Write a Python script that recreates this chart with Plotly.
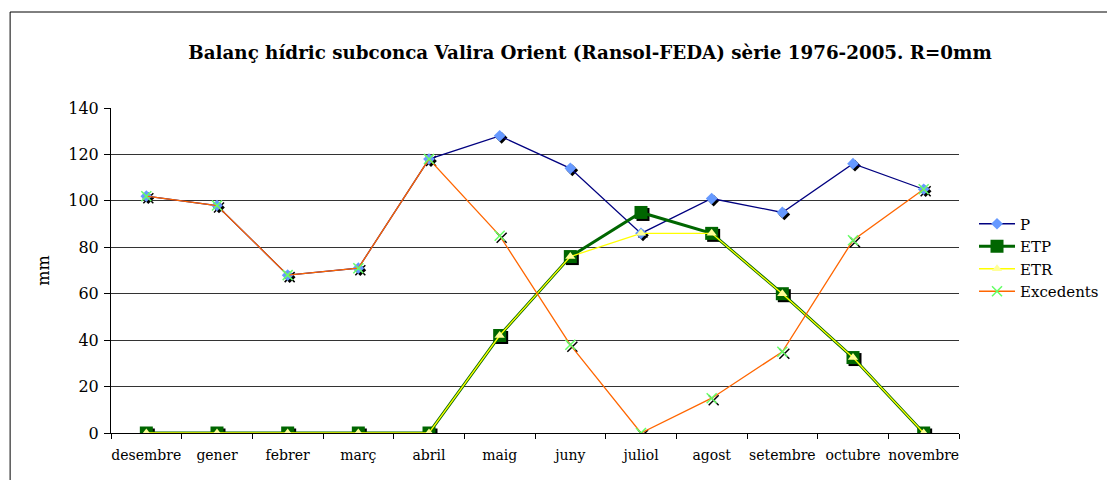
import plotly.graph_objects as go

months = ["desembre", "gener", "febrer", "març", "abril", "maig", "juny",
          "juliol", "agost", "setembre", "octubre", "novembre"]
P = [102, 98, 68, 71, 118, 128, 114, 86, 101, 95, 116, 105]
ETP = [0, 0, 0, 0, 0, 42, 76, 95, 86, 60, 32.5, 0]
ETR = [0, 0, 0, 0, 0, 42, 76, 86, 86, 60, 32.5, 0]
Excedents = [102, 98, 68, 71, 118, 85, 38, 0, 15, 35, 83, 105]
yticks = [0, 20, 40, 60, 80, 100, 120, 140]

FONT = "DejaVu Serif"
W, H = 1107, 472  # page body has an 8px margin

series = [
    ("P", P, dict(color="#000080", width=1.3), dict(symbol="diamond", size=9, color="#6699FF")),
    ("ETP", ETP, dict(color="#006600", width=3), dict(symbol="square", size=13, color="#006600")),
    ("ETR", ETR, dict(color="#FFFF00", width=1.3), dict(symbol="triangle-up", size=9, color="#FFFF99")),
    ("Excedents", Excedents, dict(color="#FF6600", width=1.3),
     dict(symbol="x-thin", size=10, color="#66FF66", line=dict(color="#66FF66", width=1.5))),
]

fig = go.Figure()
# base subplot: carries the visible axes and gridlines
fig.add_trace(go.Scatter(x=months, y=P, mode="none", showlegend=False,
                         hoverinfo="skip", xaxis="x", yaxis="y"))
# drop shadows of markers (same data, drawn on a slightly offset overlay axis)
for name, vals, ln, mk in series:
    sh = dict(mk)
    sh["color"] = "black"
    if "line" in sh:
        sh["line"] = dict(color="black", width=1.5)
    fig.add_trace(go.Scatter(x=months, y=vals, mode="markers", marker=sh,
                             showlegend=False, hoverinfo="skip",
                             xaxis="x2", yaxis="y2"))
for name, vals, ln, mk in series:
    fig.add_trace(go.Scatter(x=months, y=vals, name=name, mode="lines+markers",
                             line=ln, marker=mk, xaxis="x3", yaxis="y3"))

px_x = 849 / 12   # pixels per category
px_y = 325 / 140  # pixels per mm
dx = 2.0 / px_x
dy = 2.0 / px_y

hidden = dict(visible=False, fixedrange=True)
fig.update_layout(
    width=W, height=H,
    margin=dict(l=103, r=155, t=100, b=47),
    paper_bgcolor="white", plot_bgcolor="white",
    font=dict(family=FONT, color="black"),
    title=dict(text="Balanç hídric subconca Valira Orient (Ransol-FEDA) sèrie 1976-2005. R=0mm",
               x=582 / W, xanchor="center", y=1 - 45 / H, yanchor="middle",
               font=dict(family=FONT, size=18.3, color="black", weight="bold")),
    legend=dict(x=1.0165, xanchor="left", y=0.54, yanchor="middle",
                font=dict(family=FONT, size=15, color="black"),
                bgcolor="rgba(0,0,0,0)", itemwidth=36),
    shapes=[dict(type="rect", xref="paper", yref="paper",
                 x0=(10 - 111) / 849, x1=1.3, y0=-0.3, y1=(433 - 12) / 325,
                 line=dict(color="black", width=1), fillcolor="rgba(0,0,0,0)",
                 layer="below")],
    xaxis=dict(type="category", categoryarray=months, range=[-0.5, 11.5], tickson="boundaries",
               ticks="outside", ticklen=5, tickcolor="black", tickangle=0,
               automargin=False, ticklabelstandoff=9,
               showline=True, linecolor="black", linewidth=1,
               showgrid=False, tickfont=dict(family=FONT, size=14, color="black")),
    yaxis=dict(range=[0, 140], tickvals=yticks, ticks="outside", ticklen=6,
               tickcolor="black", showline=True, linecolor="black", linewidth=1,
               automargin=False, ticklabelstandoff=2,
               showgrid=True, gridcolor="#333333", gridwidth=1, zeroline=False,
               title=dict(text="mm", font=dict(family=FONT, size=16, color="black"), standoff=14),
               tickfont=dict(family=FONT, size=16, color="black")),
    xaxis2=dict(type="category", categoryarray=months, overlaying="x",
                range=[-0.5 - dx, 11.5 - dx], **hidden),
    yaxis2=dict(overlaying="y", range=[dy, 140 + dy], **hidden),
    xaxis3=dict(type="category", categoryarray=months, overlaying="x",
                range=[-0.5, 11.5], **hidden),
    yaxis3=dict(overlaying="y", range=[0, 140], **hidden),
)

fig.write_html("out.html")
